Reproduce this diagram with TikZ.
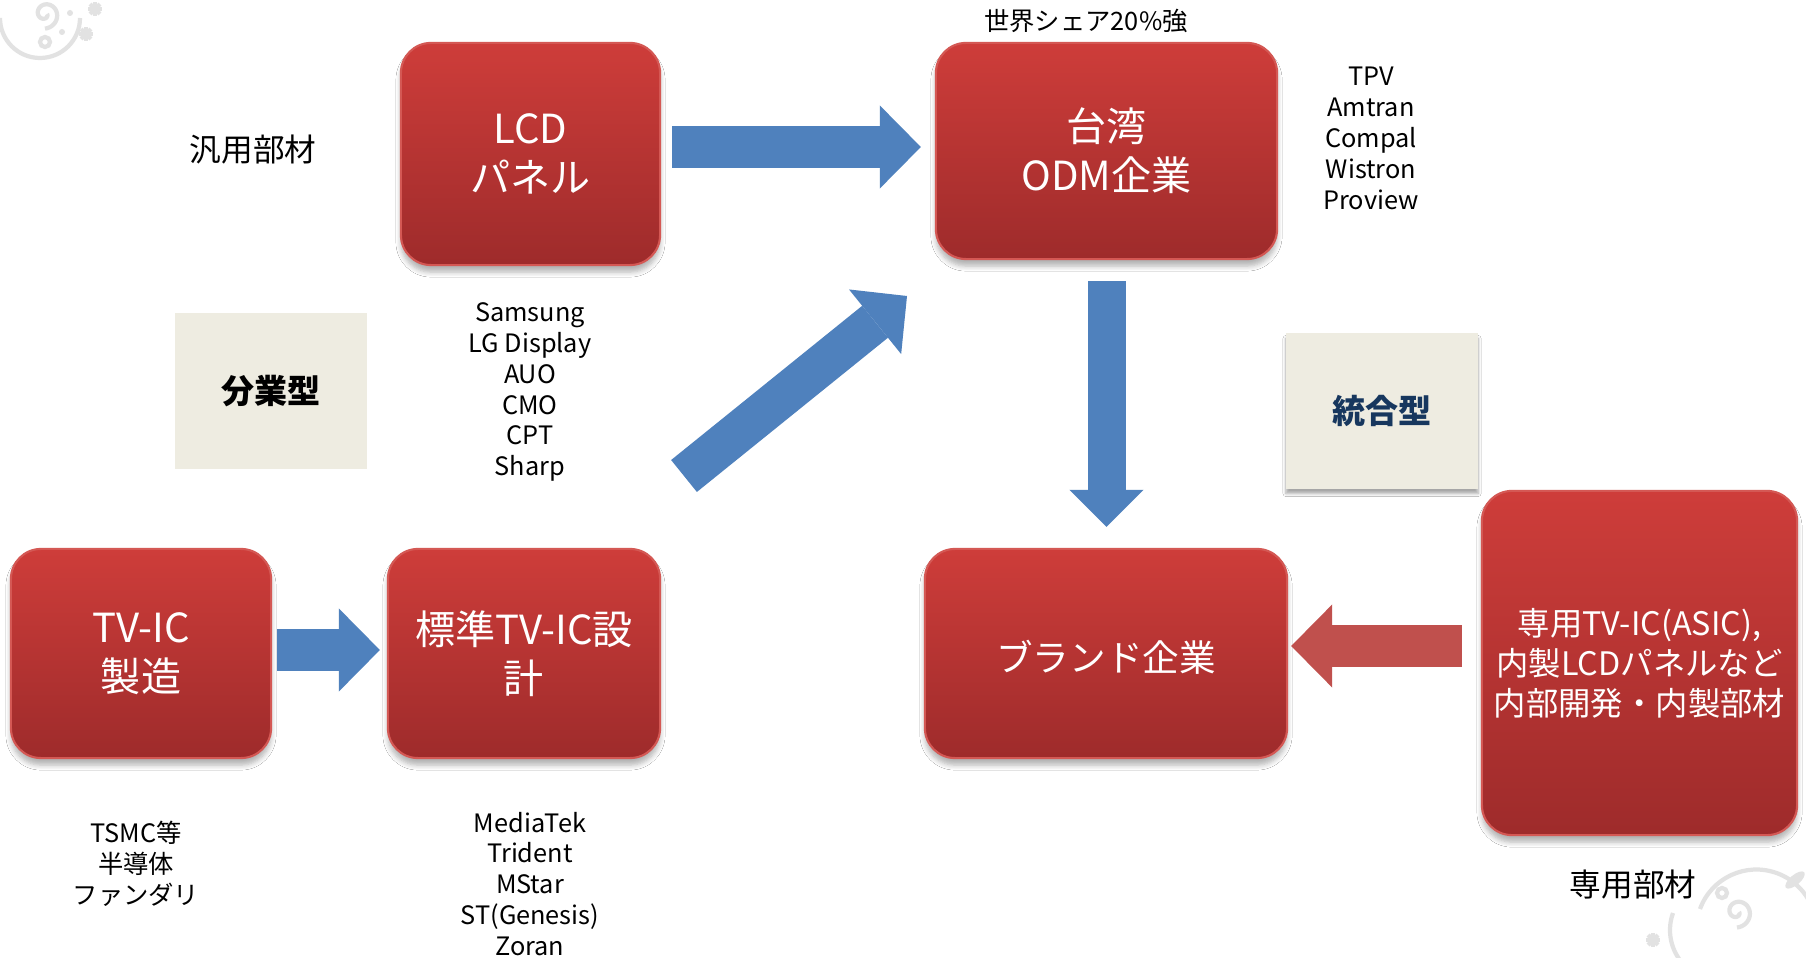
\documentclass[tikz,border=0pt]{standalone}
\usepackage{fontspec}
\setmainfont{Noto Sans CJK JP}
\usepackage{tikz}
\usetikzlibrary{arrows.meta,shadows.blur}
\definecolor{BoxTop} {RGB}{206,61,58}
\definecolor{BoxBot} {RGB}{158,43,43}
\definecolor{BoxLine}{RGB}{212,88,84}
\definecolor{ArrBlue}{RGB}{79,129,189}
\definecolor{ArrRed} {RGB}{192,80,77}
\definecolor{TagFill}{RGB}{238,236,225}
\definecolor{TagText}{RGB}{23,55,94}
\definecolor{OrnLine}{RGB}{226,226,226}
\tikzset{
  nd_red/.style={
    rectangle, rounded corners=0.3cm,
    draw=BoxLine, line width=0.6pt,
    top color=BoxTop, bottom color=BoxBot,
    text=white, align=center,
    font=\fontsize{11.4}{14}\selectfont,
    execute at begin node={\rule{0pt}{1.08em}},
    blur shadow={shadow xshift=0pt, shadow yshift=-0.07cm,
      shadow blur radius=0.05cm, shadow blur steps=6, shadow opacity=30}},
  nd_tag/.style={
    rectangle, fill=TagFill,
    minimum width=1.92cm, minimum height=1.55cm,
    font=\fontsize{9.4}{11}\selectfont\bfseries},
  nd_lst/.style={align=center, font=\fontsize{7.2}{8.8}\selectfont},
  nd_cap/.style={font=\fontsize{9}{11}\selectfont},
  arr/.style={draw=ArrBlue, line width=0.41cm,
    -{Triangle[length=0.41cm,width=0.83cm,line width=0pt]}},
  orn/.style={draw=OrnLine, line width=1.2pt},
}

\begin{document}
\begin{tikzpicture}[x=0.01cm,y=-0.01cm]

\useasboundingbox (0,0) rectangle (1806,958);
\fill[white] (0,0) rectangle (1806,958);

%% corner swirls
\draw[orn] (0,18) arc[start angle=180, end angle=0, radius=40];
\draw[orn] plot[domain=0:450, samples=50, variable=\t]
  ({45+(2+0.028*\t)*cos(\t)},{14+(2+0.028*\t)*sin(\t)});
\draw[orn] (45,42) circle[radius=5];
\fill[OrnLine] (70,13) circle[radius=3] (62,32) circle[radius=3];
\draw[orn] (1700,909) arc[start angle=200, end angle=340, radius=60];
\draw[orn] plot[domain=0:450, samples=50, variable=\t]
  ({1737+(2+0.03*\t)*cos(\t)},{912+(2+0.03*\t)*sin(\t)});
\draw[orn] (1722,893) circle[radius=5];
\draw[orn] (1673,913) arc[start angle=200, end angle=145, radius=50];
\fill[OrnLine, rotate around={40:(1795,880)}] (1795,880) ellipse[x radius=12, y radius=5];
\foreach \p in {{95,9},{86,34},{1653,940}}
  \foreach \a in {0,45,...,315}
    {\draw[orn] (\p) -- ++(\a:7);}

%% upper row
\node[nd_cap] at (253,150) (GEN){汎用部材};
\node[nd_red, minimum width=2.59cm, minimum height=2.22cm]
  at (530.5,154) (LCD){LCD\\パネル};
\node[nd_red, minimum width=3.41cm, minimum height=2.16cm]
  at (1106.5,151) (ODM){台湾\\ODM企業};
\node[nd_lst] at (1086,21) (SHR){世界シェア20\%強};
\node[nd_lst] at (1371,138) (ODL){TPV\\Amtran\\Compal\\Wistron\\Proview};

%% middle
\node[nd_tag] at (271,391) (BUN){分業型};
\node[nd_lst] at (530,392) (LCL){Samsung\\LG Display\\AUO\\CMO\\CPT\\Sharp};
\node[nd_tag, text=TagText,
  blur shadow={shadow xshift=0pt, shadow yshift=-0.05cm,
    shadow blur radius=0.03cm, shadow blur steps=5, shadow opacity=35}]
  at (1382,411) (TOG){統合型};

%% lower row
\node[nd_red, minimum width=2.60cm, minimum height=2.09cm]
  at (141,653.5) (TVI){TV-IC\\製造};
\node[nd_red, minimum width=2.72cm, minimum height=2.09cm]
  at (524,653.5) (STD){標準TV-IC設\\計};
\node[nd_red, minimum width=3.62cm, minimum height=2.09cm,
  font=\fontsize{10.4}{13}\selectfont]
  at (1106,653.5) (BRD){ブランド企業};
\node[nd_red, minimum width=3.15cm, minimum height=3.44cm,
  font=\fontsize{9.2}{11.4}\selectfont]
  at (1639.5,663) (SPC){専用TV-IC(ASIC),\\内製LCDパネルなど\\内部開発・内製部材};
\node[nd_lst] at (136,864) (TVL){TSMC等\\半導体\\ファンダリ};
\node[nd_lst] at (530,884) (STL){MediaTek\\Trident\\MStar\\ST(Genesis)\\Zoran};
\node[nd_cap] at (1633,885) (DED){専用部材};

%% block arrows
\coordinate (dgA) at (684,476);
\coordinate (dgB) at (907,296);
\draw[arr, shorten <=0.11cm, shorten >=0.14cm]
  ([yshift=0.07cm]LCD.east) -- ([yshift=0.07cm]LCD.east -| ODM.west);
\draw[arr] (dgA) -- (dgB);
\draw[arr, line width=0.38cm, -{Triangle[length=0.37cm,width=0.74cm,line width=0pt]},
  shorten <=0.21cm, shorten >=0.21cm] (ODM.south) -- (ODM.south |- BRD.north);
\draw[arr, shorten <=0.05cm, shorten >=0.07cm]
  ([yshift=0.035cm]TVI.east) -- ([yshift=0.035cm]TVI.east -| STD.west);
\draw[arr, draw=ArrRed, shorten <=0.19cm, shorten >=0.03cm]
  ([yshift=0.17cm]SPC.west) -- ([yshift=0.17cm]SPC.west -| BRD.east);

\end{tikzpicture}
\end{document}
